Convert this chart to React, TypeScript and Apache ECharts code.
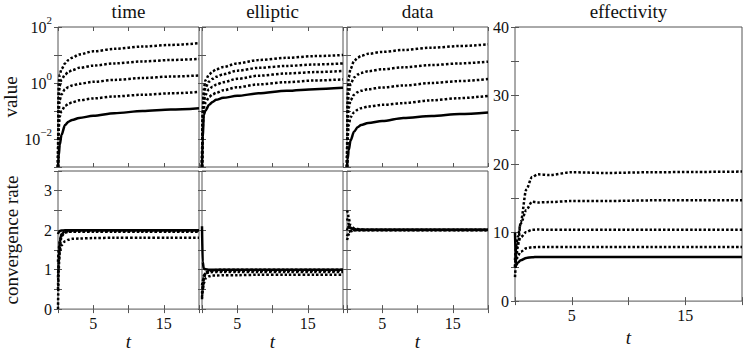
import React, { useEffect, useRef } from "react";
import * as echarts from "echarts";

// ---------- data ----------
const T = [0, 0.1, 0.25, 0.5, 1, 1.5, 2, 3, 5, 8, 12, 16, 20];

const timeValueSolid = [0.001, 0.0025, 0.0063, 0.0141, 0.0316, 0.0417, 0.0479, 0.0562, 0.0676, 0.0832, 0.1, 0.112, 0.126];
const timeValueDot4 = [0.001, 0.0251, 0.0631, 0.1, 0.151, 0.182, 0.204, 0.24, 0.282, 0.331, 0.38, 0.427, 0.479];
const timeValueDot3 = [0.001, 0.1, 0.251, 0.398, 0.603, 0.724, 0.813, 0.933, 1.1, 1.29, 1.51, 1.7, 1.86];
const timeValueDot2 = [0.001, 0.316, 0.794, 1.32, 2.0, 2.51, 2.88, 3.47, 4.17, 5.01, 5.89, 6.61, 7.24];
const timeValueDot1 = [0.001, 1.0, 2.0, 3.16, 5.01, 6.61, 7.94, 10.5, 13.5, 16.6, 20.0, 22.9, 26.3];

const ellValueSolid = [0.001, 0.01, 0.0708, 0.105, 0.166, 0.209, 0.251, 0.295, 0.347, 0.427, 0.525, 0.603, 0.676];
const ellValueDot4 = [0.001, 0.0251, 0.126, 0.2, 0.316, 0.389, 0.447, 0.55, 0.708, 0.891, 1.07, 1.23, 1.35];
const ellValueDot3 = [0.001, 0.0398, 0.2, 0.38, 0.603, 0.741, 0.871, 1.07, 1.41, 1.82, 2.19, 2.45, 2.69];
const ellValueDot2 = [0.001, 0.0631, 0.355, 0.708, 1.12, 1.41, 1.66, 2.04, 2.75, 3.47, 4.07, 4.57, 5.01];
const ellValueDot1 = [0.001, 0.1, 0.631, 1.26, 2.0, 2.57, 3.09, 3.72, 5.01, 6.61, 7.94, 9.12, 10.0];

const dataValueSolid = [0.001, 0.002, 0.004, 0.0089, 0.0182, 0.0263, 0.0316, 0.0372, 0.0437, 0.0562, 0.0661, 0.0776, 0.0891];
const dataValueDot4 = [0.001, 0.0126, 0.0316, 0.0603, 0.0891, 0.11, 0.126, 0.145, 0.166, 0.191, 0.24, 0.288, 0.347];
const dataValueDot3 = [0.001, 0.05, 0.126, 0.24, 0.38, 0.468, 0.525, 0.603, 0.692, 0.813, 1.0, 1.17, 1.38];
const dataValueDot2 = [0.001, 0.158, 0.447, 0.891, 1.58, 2.0, 2.29, 2.63, 3.09, 3.63, 4.37, 5.01, 5.75];
const dataValueDot1 = [0.001, 0.5, 1.58, 3.16, 6.03, 7.94, 9.33, 11.0, 12.9, 15.1, 18.2, 20.9, 24.0];

const timeRateSolid = [1.9, 1.95, 1.98, 1.99, 2.0, 2.0, 2.0, 2.0, 2.0, 2.0, 2.0, 2.0, 2.0];
const timeRateDot1 = [0, 1.0, 1.7, 1.9, 1.97, 1.98, 1.99, 2.0, 2.0, 2.0, 2.0, 2.0, 2.0];
const timeRateDot2 = [0.5, 1.2, 1.55, 1.85, 1.94, 1.96, 1.97, 1.98, 1.98, 1.98, 1.98, 1.98, 1.98];
const timeRateDot3 = [1.2, 1.5, 1.75, 1.9, 1.95, 1.96, 1.96, 1.96, 1.96, 1.96, 1.96, 1.96, 1.96];
const timeRateDot4 = [0.8, 1.2, 1.45, 1.62, 1.72, 1.76, 1.78, 1.79, 1.8, 1.81, 1.81, 1.81, 1.81];

const ellRateSolid = [2.1, 1.2, 1.03, 1.01, 1.0, 1.0, 1.0, 1.0, 1.0, 1.0, 1.0, 1.0, 1.0];
const ellRateDot1 = [0.25, 0.5, 0.75, 0.92, 0.97, 0.98, 0.99, 1.0, 1.0, 1.0, 1.0, 1.0, 1.0];
const ellRateDot2 = [0.4, 0.6, 0.8, 0.92, 0.96, 0.97, 0.97, 0.97, 0.97, 0.97, 0.97, 0.97, 0.97];
const ellRateDot3 = [0.6, 0.7, 0.85, 0.9, 0.93, 0.94, 0.94, 0.94, 0.94, 0.94, 0.94, 0.94, 0.94];
const ellRateDot4 = [0.3, 0.45, 0.65, 0.78, 0.83, 0.85, 0.85, 0.86, 0.86, 0.87, 0.87, 0.87, 0.87];

const dataRateSolid = [2.0, 2.05, 2.1, 2.05, 2.02, 2.01, 2.01, 2.01, 2.01, 2.01, 2.01, 2.01, 2.01];
const dataRateDot1 = [2.5, 2.45, 2.3, 2.12, 2.05, 2.03, 2.02, 2.01, 2.01, 2.01, 2.01, 2.01, 2.01];
const dataRateDot2 = [1.75, 1.8, 1.9, 1.97, 2.0, 2.0, 2.0, 2.0, 2.0, 2.0, 2.0, 2.0, 2.0];
const dataRateDot3 = [2.3, 2.25, 2.15, 2.06, 2.03, 2.02, 2.01, 2.01, 2.01, 2.01, 2.01, 2.01, 2.01];
const dataRateDot4 = [1.85, 1.9, 1.95, 1.98, 2.0, 2.0, 2.0, 2.0, 2.0, 2.0, 2.0, 2.0, 2.0];

const effSolid = [10, 5.2, 5.6, 5.95, 6.3, 6.4, 6.45, 6.45, 6.45, 6.45, 6.45, 6.45, 6.45];
const effDot4 = [3.5, 5.8, 6.6, 7.2, 7.7, 7.85, 7.9, 7.9, 7.9, 7.9, 7.9, 7.9, 7.9];
const effDot3 = [5, 7.0, 8.5, 9.3, 10.1, 10.4, 10.45, 10.4, 10.4, 10.4, 10.4, 10.4, 10.4];
const effDot2 = [6, 8, 9.4, 11.3, 13.3, 14.5, 14.4, 14.45, 14.6, 14.6, 14.7, 14.7, 14.7];
const effDot1 = [5, 6.5, 8.0, 11.5, 16.3, 18.1, 18.5, 18.4, 18.8, 18.7, 18.8, 18.85, 18.9];

const panelTitles = ["time", "elliptic", "data", "effectivity"];
const xTickLabels = [5, 15];

// ---------- styling / layout ----------
const FONT = "Liberation Serif";
const FRAME = "#555";
const INK = "#111";

type Panel = {
  grid: { left: number; top: number; width: number; height: number };
  yType: "log" | "value";
  ymin: number;
  ymax: number;
  yInterval?: number;
  yLabelEvery?: number;
  showXLabels: boolean;
  showYLabels: boolean;
  yName?: string;
  solid: number[];
  dotted: number[][];
};

const panels: Panel[] = [
  { grid: { left: 58, top: 27, width: 141, height: 140 }, yType: "log", ymin: 0.001, ymax: 100, showXLabels: false, showYLabels: true, yName: "value", solid: timeValueSolid, dotted: [timeValueDot1, timeValueDot2, timeValueDot3, timeValueDot4] },
  { grid: { left: 202, top: 27, width: 141, height: 140 }, yType: "log", ymin: 0.001, ymax: 100, showXLabels: false, showYLabels: false, solid: ellValueSolid, dotted: [ellValueDot1, ellValueDot2, ellValueDot3, ellValueDot4] },
  { grid: { left: 347, top: 27, width: 141, height: 140 }, yType: "log", ymin: 0.001, ymax: 100, showXLabels: false, showYLabels: false, solid: dataValueSolid, dotted: [dataValueDot1, dataValueDot2, dataValueDot3, dataValueDot4] },
  { grid: { left: 58, top: 171, width: 141, height: 141 }, yType: "value", ymin: 0, ymax: 3.5, yInterval: 0.5, yLabelEvery: 1, showXLabels: true, showYLabels: true, yName: "convergence rate", solid: timeRateSolid, dotted: [timeRateDot1, timeRateDot2, timeRateDot3, timeRateDot4] },
  { grid: { left: 202, top: 171, width: 141, height: 141 }, yType: "value", ymin: 0, ymax: 3.5, yInterval: 0.5, yLabelEvery: 1, showXLabels: true, showYLabels: false, solid: ellRateSolid, dotted: [ellRateDot1, ellRateDot2, ellRateDot3, ellRateDot4] },
  { grid: { left: 347, top: 171, width: 141, height: 141 }, yType: "value", ymin: 0, ymax: 3.5, yInterval: 0.5, yLabelEvery: 1, showXLabels: true, showYLabels: false, solid: dataRateSolid, dotted: [dataRateDot1, dataRateDot2, dataRateDot3, dataRateDot4] },
  { grid: { left: 515, top: 27, width: 227, height: 285 }, yType: "value", ymin: 0, ymax: 40, yInterval: 5, yLabelEvery: 10, showXLabels: true, showYLabels: true, solid: effSolid, dotted: [effDot1, effDot2, effDot3, effDot4] },
];

const titleCenters = [128.5, 272.5, 417.5, 628.5];

function supLabel(v: number) {
  const e = Math.round(Math.log10(v));
  if (e % 2 !== 0) return "";
  const s = e < 0 ? "\u2212" + String(-e) : String(e);
  return "{b|10}{s|" + s + "}";
}

export default function App() {
  const ref = useRef<HTMLDivElement>(null);

  useEffect(() => {
    if (!ref.current) return;
    const chart = echarts.init(ref.current, undefined, { renderer: "svg" });

    const grids: any[] = [];
    const xAxes: any[] = [];
    const yAxes: any[] = [];
    const series: any[] = [];

    panels.forEach((p, i) => {
      grids.push({ ...p.grid, show: true, borderColor: FRAME, borderWidth: 1, backgroundColor: "transparent", containLabel: false });
      const tick = { show: true, inside: true, length: 4, lineStyle: { color: FRAME, width: 1 } };
      const xBase = { type: "value", gridIndex: i, min: 0, max: 20, interval: 5, splitLine: { show: false }, axisLine: { show: false } };
      xAxes.push({
        ...xBase,
        position: "bottom",
        axisTick: tick,
        axisLabel: {
          show: p.showXLabels,
          margin: 6,
          fontFamily: FONT,
          fontSize: 16,
          color: INK,
          formatter: (v: number) => (xTickLabels.includes(v) ? String(v) : ""),
        },
        name: p.showXLabels ? "t" : "",
        nameLocation: "middle",
        nameGap: 21,
        nameTextStyle: { fontFamily: FONT, fontSize: 19, fontStyle: "italic", color: INK },
      });
      xAxes.push({ ...xBase, position: "top", axisTick: tick, axisLabel: { show: false } });

      const yBase: any = {
        type: p.yType,
        gridIndex: i,
        min: p.ymin,
        max: p.ymax,
        splitLine: { show: false },
        axisLine: { show: false },
      };
      if (p.yType === "log") {
        yBase.logBase = 10;
        yBase.splitNumber = 5;
      } else {
        yBase.interval = p.yInterval;
      }
      const yLabel: any = {
        show: p.showYLabels,
        margin: 6,
        fontFamily: FONT,
        fontSize: 16,
        color: INK,
      };
      if (p.yType === "log") {
        yLabel.formatter = supLabel;
        yLabel.rich = {
          b: { fontFamily: FONT, fontSize: 16, color: INK, lineHeight: 16 },
          s: { fontFamily: FONT, fontSize: 11, color: INK, lineHeight: 26, verticalAlign: "top" },
        };
      } else {
        const every = p.yLabelEvery || 1;
        yLabel.formatter = (v: number) => (Math.abs(v / every - Math.round(v / every)) < 1e-9 ? String(v) : "");
      }
      yAxes.push({
        ...yBase,
        position: "left",
        axisTick: tick,
        axisLabel: yLabel,
        name: p.yName || "",
        nameLocation: "middle",
        nameGap: 37,
        nameTextStyle: { fontFamily: FONT, fontSize: 19, color: INK },
      });
      yAxes.push({ ...yBase, position: "right", axisTick: tick, axisLabel: { show: false } });

      const mk = (arr: number[]) => T.map((t, k) => [t, arr[k]]);
      p.dotted.forEach((arr) => {
        series.push({
          type: "line",
          xAxisIndex: 2 * i,
          yAxisIndex: 2 * i,
          data: mk(arr),
          showSymbol: false,
          symbol: "none",
          smooth: 0.3,
          smoothMonotone: "x",
          clip: true,
          lineStyle: { color: "#000", width: 2.5, type: [2.5, 2], cap: "butt" },
        });
      });
      series.push({
        type: "line",
        xAxisIndex: 2 * i,
        yAxisIndex: 2 * i,
        data: mk(p.solid),
        showSymbol: false,
        symbol: "none",
        smooth: 0.3,
        smoothMonotone: "x",
        clip: true,
        lineStyle: { color: "#000", width: 2.5, type: "solid" },
      });
    });

    const graphic = panelTitles.map((txt, i) => ({
      type: "text",
      x: titleCenters[i],
      y: 2,
      style: { text: txt, fontFamily: FONT, fontSize: 19, fill: INK, textAlign: "center", textVerticalAlign: "top" },
    }));

    chart.setOption({
      animation: false,
      backgroundColor: "#fff",
      textStyle: { fontFamily: FONT, color: INK },
      grid: grids,
      xAxis: xAxes,
      yAxis: yAxes,
      series,
      graphic,
    });

    return () => chart.dispose();
  }, []);

  return (
    <div
      ref={ref}
      style={{ position: "absolute", left: 0, top: 0, width: 747, height: 352, background: "#fff" }}
    />
  );
}
